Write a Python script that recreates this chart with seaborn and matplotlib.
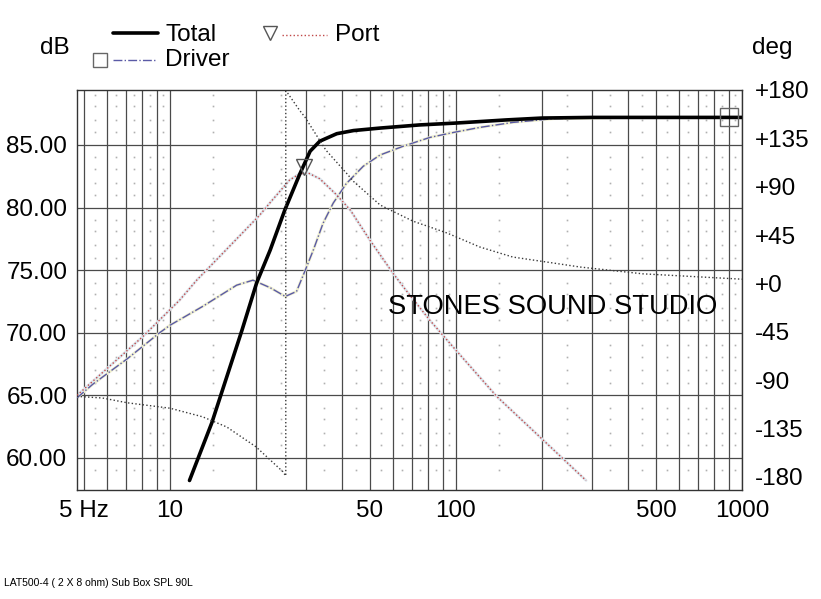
import matplotlib
matplotlib.use('Agg')  # no display in the sandbox
import matplotlib.pyplot as plt
from matplotlib.ticker import FixedLocator, NullFormatter
import seaborn as sns
import numpy as np

# --- data ---
total_f = [11.7, 14.0, 17.85, 20.1, 22.4, 25.2, 28.4, 30.9, 33.4, 38.3, 43.8, 54.3, 74.6,
           100, 150, 200, 300, 500, 1000]
total_db = [58.2, 62.8, 70.2, 74.0, 76.6, 79.8, 82.65, 84.5, 85.3, 85.9, 86.15, 86.35, 86.6,
            86.75, 87.0, 87.15, 87.2, 87.2, 87.2]

driver_f = [4.73, 5.38, 7.07, 9.2, 10, 13.0, 17.1, 19.5, 22.4, 25.3, 27.7, 29.6, 31.7, 34.3,
            37.2, 41.3, 47.4, 54.3, 65.4, 81, 98, 121, 158, 220, 400, 1000]
driver_db = [64.8, 65.9, 67.9, 70.0, 70.6, 72.1, 73.8, 74.2, 73.6, 72.9, 73.3, 74.9, 76.6,
             78.75, 80.35, 81.9, 83.3, 84.2, 84.9, 85.6, 86.0, 86.4, 86.8, 87.1, 87.2, 87.2]

port_f = [4.73, 8.04, 10.8, 12.4, 20.6, 22.4, 26.2, 28.4, 30.5, 33.4, 38.3, 42.7, 50, 60,
          66.3, 81, 100, 139, 196, 285]
port_db = [65.0, 69.7, 72.6, 74.2, 79.4, 80.4, 82.2, 82.7, 82.75, 82.3, 81.0, 79.8, 77.4,
           74.8, 73.5, 71.0, 68.6, 64.9, 61.7, 58.2]

phase_f = [4.73, 5.8, 7.1, 10, 13, 15.8, 20, 24.8, 25.4, 25.4, 25.8, 28.4, 29.6, 35.1, 41.6,
           43.8, 54.3, 70.7, 93, 121, 158, 207, 272, 450, 1000]
phase_deg = [-105, -106.5, -111, -116, -124, -133.5, -152, -175, -179, 179, 177, 161, 155,
             124, 102, 95, 73, 58, 47, 34, 24.6, 20, 15.3, 9, 4]

port_marker = (29.4, 83.2)
driver_marker = (900, 87.25)

x_major = [5, 10, 50, 100, 500, 1000]
x_labels = ['5 Hz', '10', '50', '100', '500', '1000']
db_ticks = [60, 65, 70, 75, 80, 85]
deg_ticks = [180, 135, 90, 45, 0, -45, -90, -135, -180]

sns.set_theme(style='white')
plt.rcParams['font.family'] = ['Liberation Sans', 'DejaVu Sans']
plt.rcParams['text.color'] = 'black'

W, H = 821, 599
fig = plt.figure(figsize=(W / 100, H / 100), dpi=100)
fig.patch.set_facecolor('white')
ax = fig.add_axes([77 / W, 1 - 490 / H, 665 / W, 400 / H])
ax.set_xscale('log')
ax.set_xlim(4.73, 1000)
ax.set_ylim(57.44, 89.39)

grid_f = [d * m for d in (1, 10, 100) for m in range(1, 10)] + [1000]
grid_f = [g for g in grid_f if g >= 5]
ax.xaxis.set_major_locator(FixedLocator(x_major))
ax.xaxis.set_minor_locator(FixedLocator([g for g in grid_f if g not in x_major]))
ax.xaxis.set_minor_formatter(NullFormatter())
ax.set_xticklabels(x_labels)
ax.set_yticks(db_ticks)
ax.set_yticklabels([f'{v:.2f}' for v in db_ticks])
ax.grid(True, which='both', color='#4a4a4a', lw=0.9)
ax.tick_params(axis='both', which='both', length=0, labelsize=17.5, colors='black')
ax.tick_params(axis='x', pad=7)
ax.tick_params(axis='y', pad=7)
for s in ax.spines.values():
    s.set_color('#333333')
    s.set_linewidth(1)

# faint dot texture between grid lines
mids = [np.sqrt(a * b) for a, b in zip(grid_f[:-1], grid_f[1:])]
rows = [g + o for g in db_ticks + [90] for o in (-1.0, -1.9, -3.0, -4.0)]
rows = [r for r in rows if 58.5 < r < 89.3]
mx, my = np.meshgrid(mids, rows)
ax.plot(mx.ravel(), my.ravel(), ls='none', marker='s', ms=1.2, mew=0, color='#b0b0b0', zorder=1)

# curves
sns.lineplot(x=driver_f, y=driver_db, ax=ax, color='#efefcf', lw=2.0,
             estimator=None, sort=False, zorder=2)
sns.lineplot(x=driver_f, y=driver_db, ax=ax, color='#5a5aa6', lw=1.0, linestyle='-.',
             estimator=None, sort=False, zorder=3)
sns.lineplot(x=port_f, y=port_db, ax=ax, color='#dde7ee', lw=2.0,
             estimator=None, sort=False, zorder=2)
sns.lineplot(x=port_f, y=port_db, ax=ax, color='#c04848', lw=1.0, linestyle=':',
             estimator=None, sort=False, zorder=3)
sns.lineplot(x=total_f, y=total_db, ax=ax, color='black', lw=2.6,
             estimator=None, sort=False, zorder=4)
ax.plot(*port_marker, marker='v', ms=11, mfc='none', mec='#555555', mew=1, zorder=5)
ax.plot(*driver_marker, marker='s', ms=13, mfc='none', mec='#666666', mew=1, zorder=5)
ax.set_xlabel('')
ax.set_ylabel('')

# phase on right axis
ax2 = ax.twinx()
ax2.set_ylim(-192.1, 180)
sns.lineplot(x=phase_f, y=phase_deg, ax=ax2, color='#3a3a3a', lw=1.0, linestyle=':',
             estimator=None, sort=False)
ax2.set_yticks(deg_ticks)
ax2.set_yticklabels([f'+{v}' if v >= 0 else f'{v}' for v in deg_ticks])
ax2.tick_params(axis='y', length=0, pad=9, labelsize=17.5, colors='black')
ax2.grid(False)
ax2.set_ylabel('')
for s in ax2.spines.values():
    s.set_visible(False)

# legend and labels drawn in pixel space
lax = fig.add_axes([0, 0, 1, 1], zorder=5)
lax.set_xlim(0, W)
lax.set_ylim(H, 0)
lax.axis('off')
lax.patch.set_alpha(0)
fs = 17.5
lax.text(40, 48, 'dB', fontsize=fs, va='center')
lax.text(752, 48, 'deg', fontsize=fs, va='center')
lax.plot([113, 158], [33, 33], color='black', lw=2.6)
lax.text(165, 35, 'Total', fontsize=fs, va='center')
lax.plot(100, 60, marker='s', ms=10, mfc='none', mec='#666666', mew=1)
lax.plot([113, 155], [60, 60], color='#5a5aa6', lw=1.0, ls='-.')
lax.text(165, 60, 'Driver', fontsize=fs, va='center')
lax.plot(270, 33, marker='v', ms=10, mfc='none', mec='#555555', mew=1)
lax.plot([282, 327], [35, 35], color='#c04848', lw=1.0, ls=':')
lax.text(335, 35, 'Port', fontsize=fs, va='center')
lax.text(388, 307, 'STONES SOUND STUDIO', fontsize=19.7, va='center')
lax.text(4, 583, 'LAT500-4 ( 2 X 8 ohm) Sub Box SPL 90L', fontsize=7.5, va='center')

fig.savefig('out.png', dpi=100, facecolor='white')
